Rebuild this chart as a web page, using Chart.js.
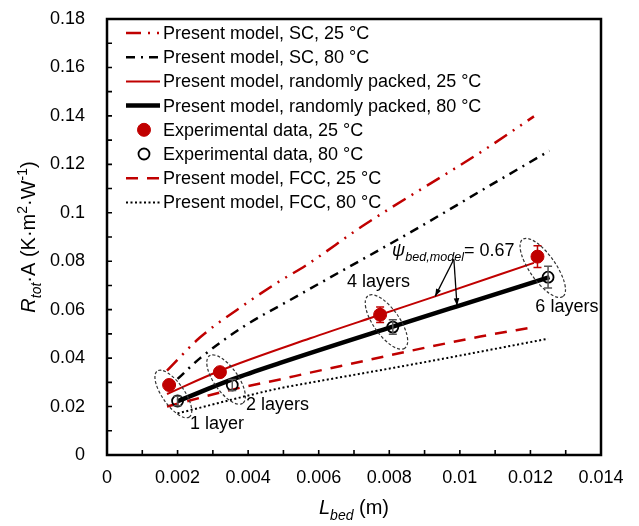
<!DOCTYPE html>
<html>
<head>
<meta charset="utf-8">
<script src="https://cdn.jsdelivr.net/npm/chart.js@4.4.0/dist/chart.umd.min.js"></script>
<style>
  html, body { margin: 0; padding: 0; background: #fff; }
  #wrap { width: 639px; height: 526px; }
</style>
</head>
<body>
<div id="wrap"><canvas id="chart" width="639" height="526"></canvas></div>
<script>
// ---- data: L_bed (m) vs R_tot*A (K m2 W-1) ----
const scX25 = [0.0017, 0.00264, 0.00368, 0.00481, 0.00566, 0.00722, 0.01077, 0.0121];
const scY25 = [0.0348, 0.0486, 0.0599, 0.0710, 0.0785, 0.0943, 0.1267, 0.1398];

const scX80 = [0.0020, 0.00264, 0.00387, 0.00519, 0.00888, 0.0108, 0.01254];
const scY80 = [0.0314, 0.0400, 0.0530, 0.0640, 0.0943, 0.1108, 0.1256];

const rpX25 = [0.0017, 0.0032, 0.00576, 0.00774, 0.0093, 0.0121];
const rpY25 = [0.0252, 0.0348, 0.0482, 0.0579, 0.0655, 0.0793];

const rpX80 = [0.0020, 0.00355, 0.00491, 0.0081, 0.00992, 0.01254];
const rpY80 = [0.0222, 0.0312, 0.0380, 0.0530, 0.0614, 0.0734];

const fccX25 = [0.0017, 0.00355, 0.0049, 0.00576, 0.01058, 0.0121];
const fccY25 = [0.0200, 0.0270, 0.0312, 0.0340, 0.0489, 0.0528];

const fccX80 = [0.0020, 0.00491, 0.00566, 0.00888, 0.0125];
const fccY80 = [0.0172, 0.0276, 0.0296, 0.0380, 0.0480];

const expX25 = [0.00176, 0.0032, 0.00774, 0.0122];
const expY25 = [0.0289, 0.0342, 0.0579, 0.0819];
const expErr25 = [0.0012, 0.0012, 0.0032, 0.0045];

const expX80 = [0.0020, 0.00355, 0.0081, 0.0125];
const expY80 = [0.0223, 0.0289, 0.0528, 0.0734];
const expErr80 = [0.002, 0.0023, 0.003, 0.0045];

const layerLabels = ["1 layer", "2 layers", "4 layers", "6 layers"];
// label anchors (left edge, middle) in data units
const layerLabelX = [0.00235, 0.00394, 0.0068, 0.01214];
const layerLabelY = [0.0128, 0.0207, 0.0716, 0.0609];

const psiValue = "0.67";
const psiAnchor = [0.00808, 0.0847];
const arrowFrom = [0.00983, 0.0808];
const arrowTipsX = [0.0093, 0.00992];
const arrowTipsY = [0.0655, 0.0616];

const RED = "#c00000";
const FONT = "'Liberation Sans', Arial, sans-serif";
const FS = 18;
const TITLE_FS = 20;

const pts = (xs, ys) => xs.map((x, i) => ({ x, y: ys[i] }));

const lineSet = (label, xs, ys, color, width, dash) => ({
  label,
  data: pts(xs, ys),
  showLine: true,
  borderColor: color,
  backgroundColor: color,
  borderWidth: width,
  borderDash: dash,
  pointRadius: 0,
  cubicInterpolationMode: "monotone",
  order: 2,
});

const datasets = [
  lineSet("Present model, SC, 25 °C", scX25, scY25, RED, 2.5, [15, 7, 2, 7, 2, 7]),
  lineSet("Present model, SC, 80 °C", scX80, scY80, "#000", 2.5, [9, 6, 2, 6]),
  lineSet("Present model, randomly packed, 25 °C", rpX25, rpY25, RED, 2, []),
  lineSet("Present model, randomly packed, 80 °C", rpX80, rpY80, "#000", 4.5, []),
  {
    label: "Experimental data, 25 °C",
    data: pts(expX25, expY25),
    showLine: false,
    pointRadius: 6.5,
    pointBackgroundColor: RED,
    pointBorderColor: RED,
    pointBorderWidth: 1,
    order: 0,
  },
  {
    label: "Experimental data, 80 °C",
    data: pts(expX80, expY80),
    showLine: false,
    pointRadius: 5.5,
    pointBackgroundColor: "rgba(255,255,255,0)",
    pointBorderColor: "#000",
    pointBorderWidth: 1.8,
    order: 0,
  },
  lineSet("Present model, FCC, 25 °C", fccX25, fccY25, RED, 2.5, [12, 9]),
  lineSet("Present model, FCC, 80 °C", fccX80, fccY80, "#000", 2, [2, 2.5]),
];

// draw text made of pieces (italic / subscript / superscript); x = left, y = baseline
function richWidth(ctx, parts, size) {
  let w = 0;
  parts.forEach(p => {
    const fs = (p.sub || p.sup) ? size * 0.7 : size;
    ctx.font = `${p.it ? "italic " : ""}${fs}px ${FONT}`;
    w += ctx.measureText(p.t).width;
  });
  return w;
}
function drawRich(ctx, parts, x, y, size) {
  parts.forEach(p => {
    const fs = (p.sub || p.sup) ? size * 0.7 : size;
    ctx.font = `${p.it ? "italic " : ""}${fs}px ${FONT}`;
    const dy = p.sub ? size * 0.28 : p.sup ? -size * 0.38 : 0;
    ctx.fillText(p.t, x, y + dy);
    x += ctx.measureText(p.t).width;
  });
}

const annotations = {
  id: "annotations",
  afterDatasetsDraw(chart) {
    const { ctx, chartArea: a, scales: { x, y } } = chart;
    ctx.save();

    // error bars
    const errBars = (xs, ys, es, color) => {
      ctx.strokeStyle = color;
      ctx.lineWidth = 1.5;
      xs.forEach((v, i) => {
        const px = x.getPixelForValue(v);
        const top = y.getPixelForValue(ys[i] + es[i]);
        const bot = y.getPixelForValue(ys[i] - es[i]);
        ctx.beginPath();
        ctx.moveTo(px, top); ctx.lineTo(px, bot);
        ctx.moveTo(px - 4, top); ctx.lineTo(px + 4, top);
        ctx.moveTo(px - 4, bot); ctx.lineTo(px + 4, bot);
        ctx.stroke();
      });
    };
    errBars(expX25, expY25, expErr25, RED);
    errBars(expX80, expY80, expErr80, "#555");

    // dashed ellipses around each pair of measurements
    const semiMajor = [28, 29, 32, 35];
    const semiMinor = [11, 12, 13, 13];
    ctx.strokeStyle = "#333";
    ctx.lineWidth = 1.2;
    ctx.setLineDash([3, 2]);
    expX25.forEach((v, i) => {
      const cx = (x.getPixelForValue(v) + x.getPixelForValue(expX80[i])) / 2;
      const cy = (y.getPixelForValue(expY25[i]) + y.getPixelForValue(expY80[i])) / 2;
      ctx.beginPath();
      ctx.ellipse(cx, cy + 1, semiMajor[i], semiMinor[i], 55 * Math.PI / 180, 0, Math.PI * 2);
      ctx.stroke();
    });
    ctx.setLineDash([]);

    // layer labels
    ctx.fillStyle = "#000";
    ctx.font = `${FS}px ${FONT}`;
    ctx.textAlign = "left";
    ctx.textBaseline = "middle";
    layerLabels.forEach((t, i) => {
      ctx.fillText(t, x.getPixelForValue(layerLabelX[i]), y.getPixelForValue(layerLabelY[i]));
    });

    // psi label and arrows
    ctx.textBaseline = "alphabetic";
    drawRich(ctx, [
      { t: "ψ", it: 1 },
      { t: "bed,model", it: 1, sub: 1 },
      { t: "= " + psiValue },
    ], x.getPixelForValue(psiAnchor[0]), y.getPixelForValue(psiAnchor[1]) + 6, FS);

    const fx = x.getPixelForValue(arrowFrom[0]);
    const fy = y.getPixelForValue(arrowFrom[1]);
    ctx.strokeStyle = "#000";
    ctx.fillStyle = "#000";
    ctx.lineWidth = 1.3;
    arrowTipsX.forEach((v, i) => {
      const tx = x.getPixelForValue(v);
      const ty = y.getPixelForValue(arrowTipsY[i]);
      const ang = Math.atan2(ty - fy, tx - fx);
      ctx.beginPath();
      ctx.moveTo(fx, fy); ctx.lineTo(tx, ty);
      ctx.stroke();
      ctx.beginPath();
      ctx.moveTo(tx, ty);
      ctx.lineTo(tx - 8 * Math.cos(ang - 0.35), ty - 8 * Math.sin(ang - 0.35));
      ctx.lineTo(tx - 8 * Math.cos(ang + 0.35), ty - 8 * Math.sin(ang + 0.35));
      ctx.closePath();
      ctx.fill();
    });

    // legend (top-left inside the plot)
    ctx.font = `${FS}px ${FONT}`;
    ctx.textBaseline = "middle";
    chart.data.datasets.forEach((ds, i) => {
      const ly = a.top + 14 + i * 24.2;
      const lx0 = a.left + 19, lx1 = a.left + 53;
      if (ds.showLine) {
        ctx.strokeStyle = ds.borderColor;
        ctx.lineWidth = ds.borderWidth;
        ctx.setLineDash(ds.borderDash);
        ctx.beginPath();
        ctx.moveTo(lx0, ly); ctx.lineTo(lx1, ly);
        ctx.stroke();
        ctx.setLineDash([]);
      } else {
        ctx.beginPath();
        ctx.arc(a.left + 37, ly, ds.pointRadius, 0, Math.PI * 2);
        ctx.fillStyle = ds.pointBackgroundColor;
        ctx.fill();
        ctx.strokeStyle = ds.pointBorderColor;
        ctx.lineWidth = ds.pointBorderWidth;
        ctx.stroke();
      }
      ctx.fillStyle = "#000";
      ctx.fillText(ds.label, a.left + 56, ly + 1);
    });

    // frame and inward ticks
    ctx.strokeStyle = "#000";
    ctx.lineWidth = 2.5;
    ctx.strokeRect(a.left, a.top, a.right - a.left, a.bottom - a.top);
    ctx.lineWidth = 1.6;
    ctx.beginPath();
    x.ticks.forEach(t => {
      const px = x.getPixelForValue(t.value);
      ctx.moveTo(px, a.bottom); ctx.lineTo(px, a.bottom - 5);
    });
    y.ticks.forEach(t => {
      const py = y.getPixelForValue(t.value);
      ctx.moveTo(a.left, py); ctx.lineTo(a.left + 5, py);
    });
    ctx.stroke();
    ctx.restore();
  },
  afterDraw(chart) {
    const { ctx, chartArea: a } = chart;
    ctx.save();
    ctx.fillStyle = "#000";
    ctx.textAlign = "left";
    ctx.textBaseline = "alphabetic";
    const xTitle = [{ t: "L", it: 1 }, { t: "bed", it: 1, sub: 1 }, { t: " (m)" }];
    const wx = richWidth(ctx, xTitle, TITLE_FS);
    drawRich(ctx, xTitle, (a.left + a.right) / 2 - wx / 2, 514, TITLE_FS);

    const yTitle = [
      { t: "R", it: 1 }, { t: "tot", it: 1, sub: 1 }, { t: "·A (K·m" },
      { t: "2", sup: 1 }, { t: "·W" }, { t: "-1", sup: 1 }, { t: ")" },
    ];
    const wy = richWidth(ctx, yTitle, TITLE_FS);
    ctx.translate(28, (a.top + a.bottom) / 2);
    ctx.rotate(-Math.PI / 2);
    drawRich(ctx, yTitle, -wy / 2, 7, TITLE_FS);
    ctx.restore();
  },
};

const tickFont = { family: FONT, size: FS };

new Chart(document.getElementById("chart"), {
  type: "scatter",
  data: { datasets },
  options: {
    responsive: false,
    animation: false,
    layout: { padding: { top: 19, right: 38, left: 0, bottom: 0 } },
    plugins: { legend: { display: false }, tooltip: { enabled: false } },
    scales: {
      x: {
        type: "linear",
        min: 0,
        max: 0.014,
        afterFit: s => { s.height = 71; s.paddingLeft = 0; s.paddingRight = 0; },
        grid: { display: false, drawTicks: false },
        border: { display: false },
        ticks: {
          stepSize: 0.001,
          maxTicksLimit: 40,
          autoSkip: false,
          maxRotation: 0,
          padding: 12,
          color: "#000",
          font: tickFont,
          callback: v => {
            const k = Math.round(v * 1000);
            return k % 2 === 0 ? String(+(k / 1000).toFixed(3)) : "";
          },
        },
      },
      y: {
        min: 0,
        max: 0.18,
        afterFit: s => { s.width = 107; s.paddingTop = 0; s.paddingBottom = 0; },
        grid: { display: false, drawTicks: false },
        border: { display: false },
        ticks: {
          stepSize: 0.01,
          maxTicksLimit: 40,
          autoSkip: false,
          padding: 22,
          color: "#000",
          font: tickFont,
          callback: v => {
            const k = Math.round(v * 100);
            return k % 2 === 0 ? String(+(k / 100).toFixed(2)) : "";
          },
        },
      },
    },
  },
  plugins: [annotations],
});
</script>
</body>
</html>
